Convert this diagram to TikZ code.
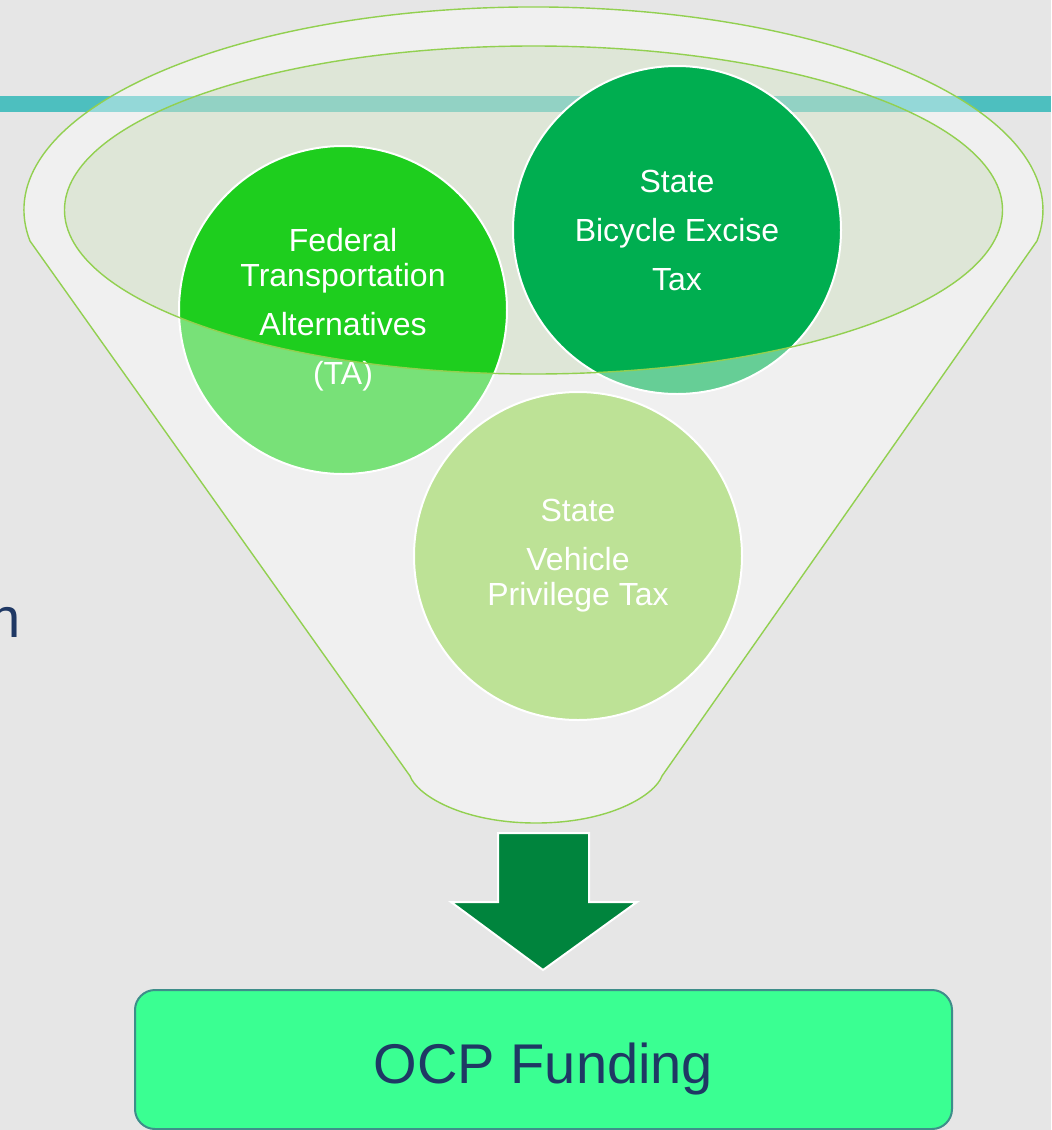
\documentclass[tikz,border=0pt]{standalone}
\usepackage{fontspec}
\setmainfont{Liberation Sans}
\usetikzlibrary{calc}
\definecolor{slidebg}{RGB}{230,230,230}
\definecolor{band}{RGB}{77,191,191}
\definecolor{mouth}{RGB}{216,230,202}
\definecolor{rimline}{RGB}{146,208,80}
\definecolor{fedgreen}{RGB}{30,206,30}
\definecolor{bikegreen}{RGB}{0,174,80}
\definecolor{vptgreen}{RGB}{146,208,80}
\definecolor{arrowgreen}{RGB}{0,132,61}
\definecolor{ocpfill}{RGB}{58,255,146}
\definecolor{ocpline}{RGB}{62,142,138}
\definecolor{navy}{RGB}{31,56,100}
\newcommand{\circsize}{164pt}
\newcommand{\funnelpath}{(30,241) arc[start angle=171.2, end angle=368.8, x radius=509.5, y radius=203]
    -- (662,776) .. controls (655,795) and (610,823) .. (536,823)
    .. controls (462,823) and (417,795) .. (410,776) -- cycle}

\begin{document}
\begin{tikzpicture}[x=0.5pt, y=-0.5pt,
    source/.style={circle, draw=white, line width=1pt, minimum size=\circsize, inner sep=0pt,
      text=white, align=center, font=\fontsize{16}{17.5}\selectfont}]
    % slide background and title rule
        \useasboundingbox (0,0) rectangle (1051,1130);
        \fill[slidebg] (0,0) rectangle (1051,1130);
        \fill[band] (0,96) rectangle (1051,111.5);
        \node (edge) at (21,637) [anchor=base east, inner sep=0pt, text=navy, font=\fontsize{28}{30}\selectfont] {n};
    % funnel mouth
        \fill[mouth, opacity=0.5] (533.5,210) ellipse [x radius=469, y radius=164];
    % sources
        \node (fed) at (343,310) [source, fill=fedgreen] {Federal\\Transportation\\[7pt]Alternatives\\[7pt](TA)};
        \node (bike) at (677,230) [source, fill=bikegreen] {State\\[7pt]Bicycle Excise\\[7pt]Tax};
        \node (vpt) at (578,556) [source, fill=vptgreen] {State\\[7pt]Vehicle\\Privilege Tax};
    % funnel body
        \fill[white, opacity=0.4, even odd rule] \funnelpath (533.5,210) ellipse [x radius=469, y radius=164];
        \draw[rimline, line width=0.7pt] \funnelpath;
        \draw[rimline, line width=0.7pt] (533.5,210) ellipse [x radius=469, y radius=164];
    % output
        \draw[white, line width=1pt, fill=arrowgreen] (498,833) -- (589,833) -- (589,902) -- (637,902)
        -- (543,970) -- (451,902) -- (498,902) -- cycle;
        \node (ocp) at (543.5,1059.5) [draw=ocpline, line width=1pt, fill=ocpfill, rounded corners=10pt,
        minimum width=408.5pt, minimum height=69.5pt, text height=24pt, text depth=0.5pt,
        text=navy, font=\fontsize{28}{30}\selectfont] {OCP Funding};
\end{tikzpicture}
\end{document}
